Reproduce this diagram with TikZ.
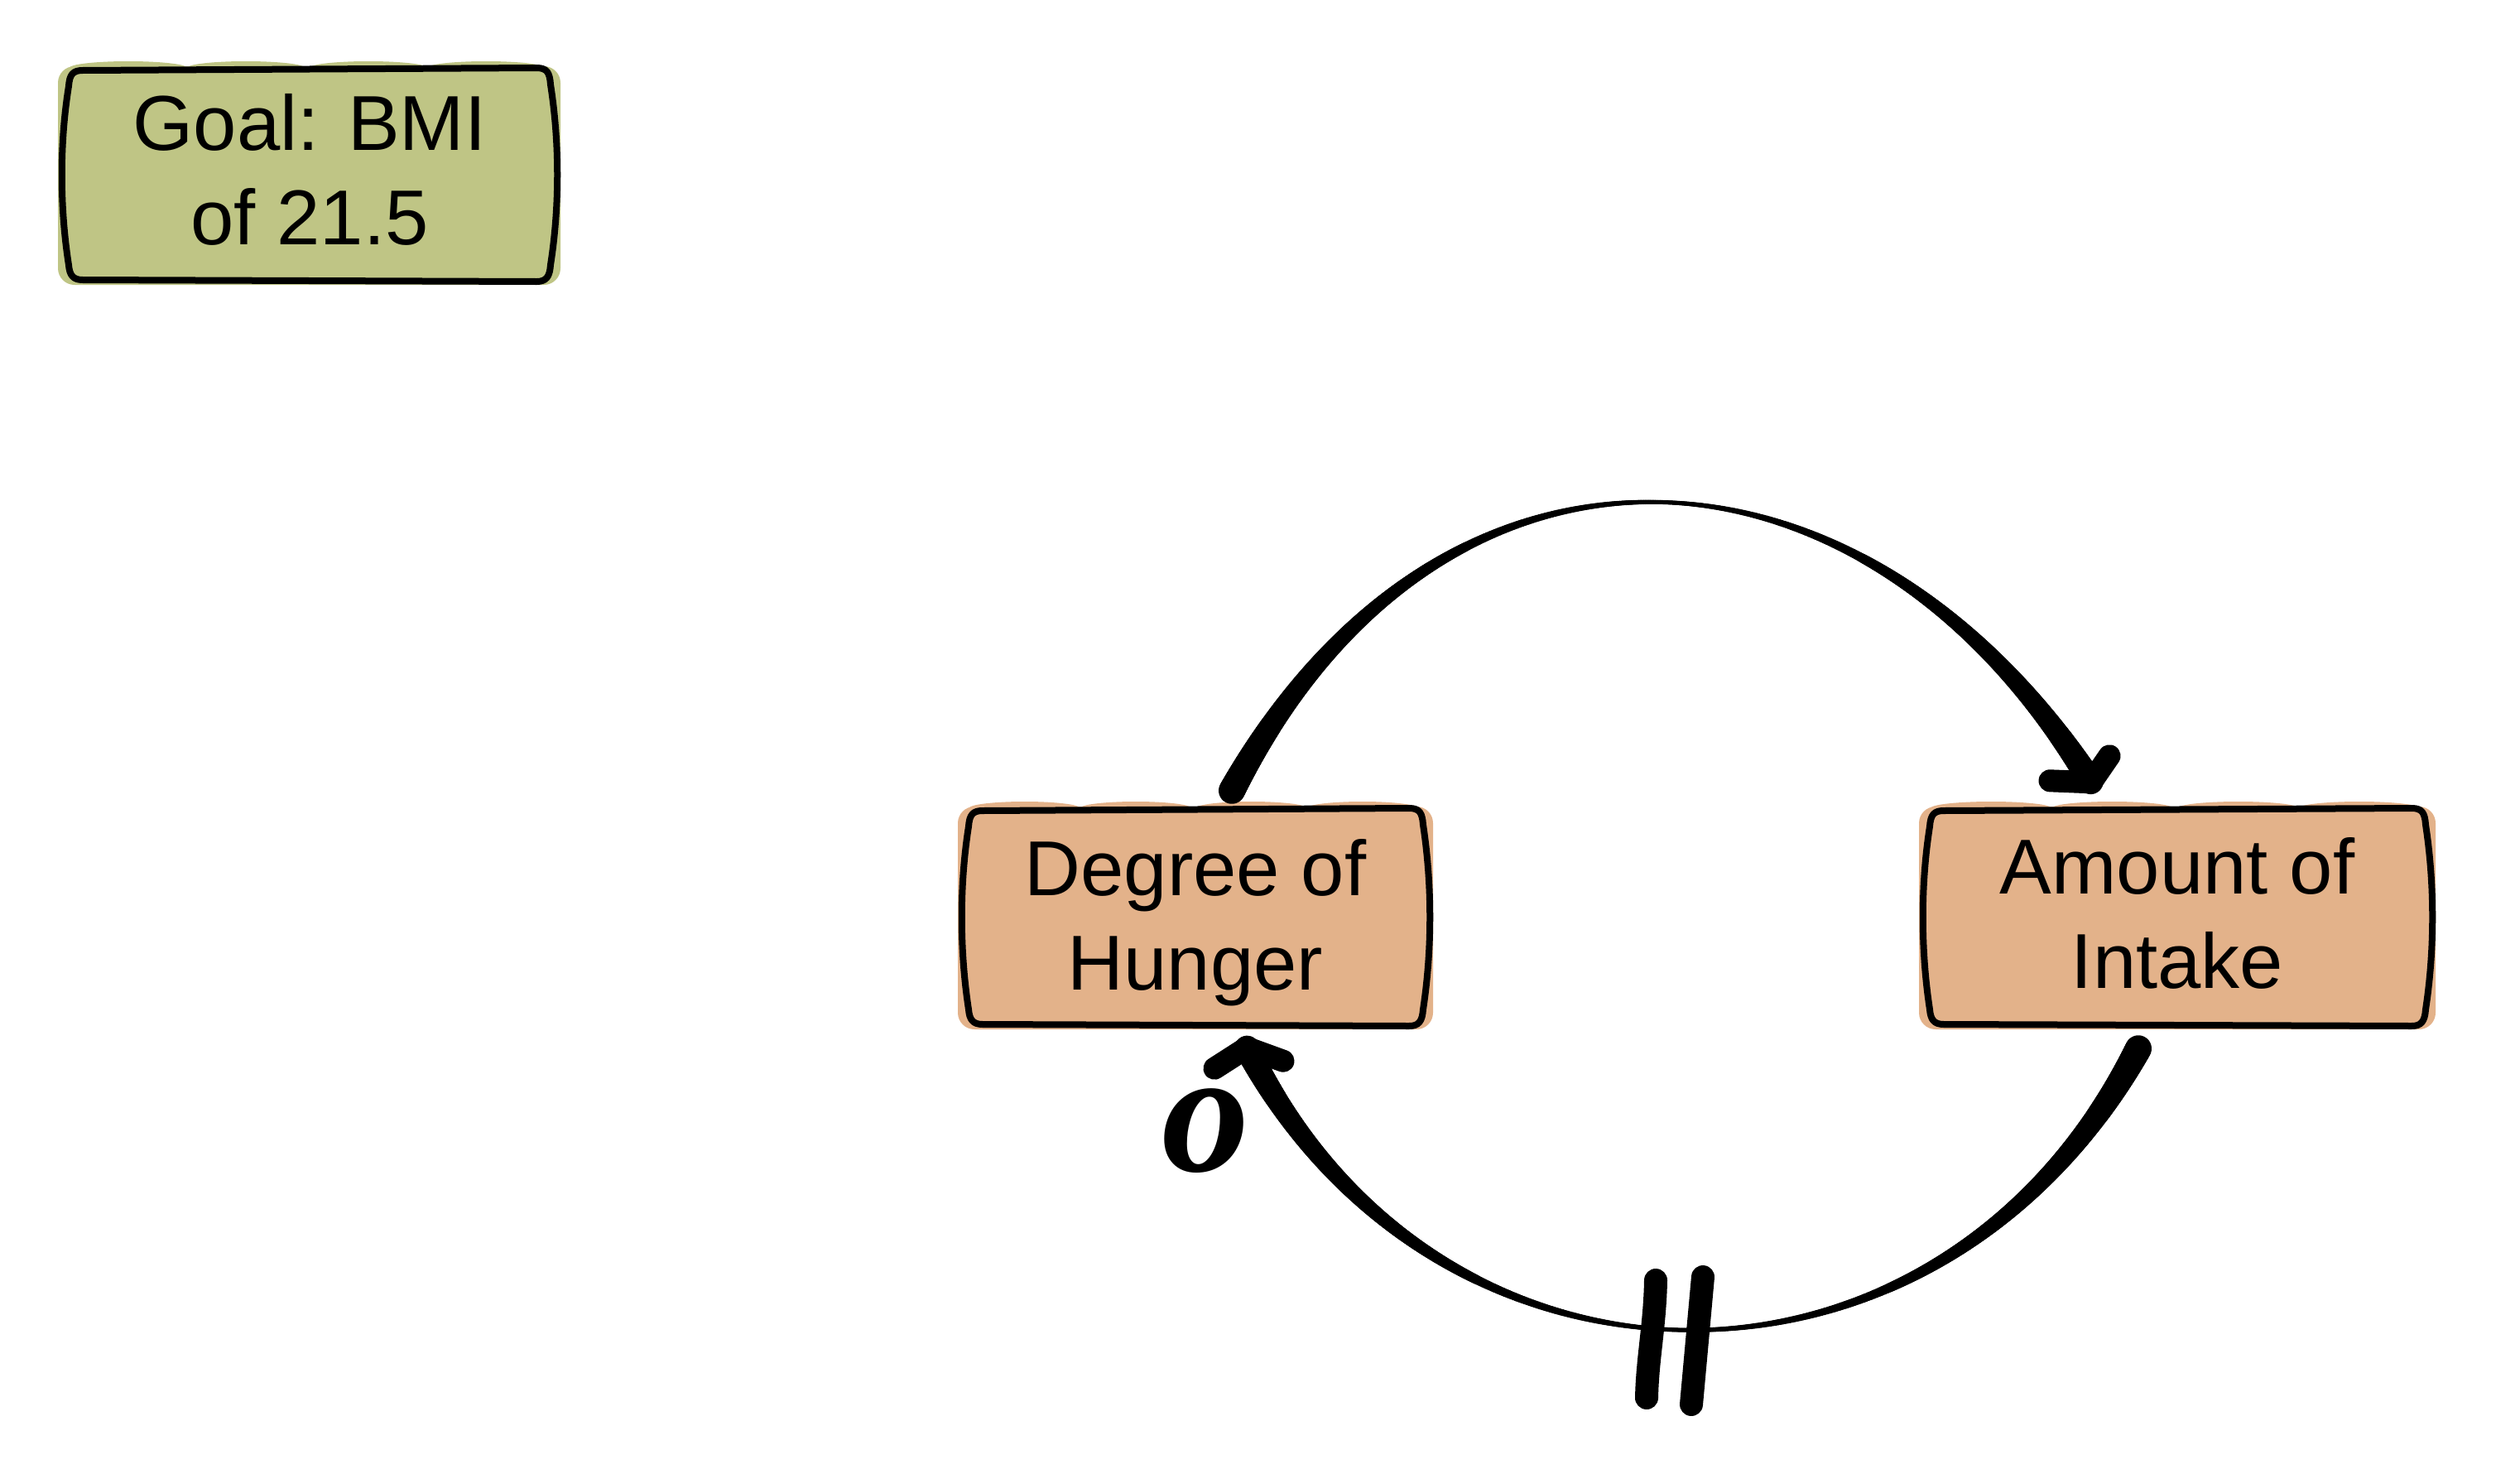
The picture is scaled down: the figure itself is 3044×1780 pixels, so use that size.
\documentclass[tikz,border=0pt]{standalone}
\usepackage{fontspec}
\setmainfont{Liberation Sans}
\newfontfamily\oserif{Liberation Serif}
\usetikzlibrary{decorations.markings,calc}
\pgfdeclarelayer{background}
\pgfsetlayers{background,main}
\definecolor{goalgreen}{RGB}{191,197,133}
\definecolor{boxorange}{RGB}{227,178,138}

\tikzset{
  lbl/.style={inner sep=0pt, align=center, font=\fontsize{94}{114}\selectfont},
  outline/.style={line width=8pt, line join=round, line cap=round},
  conn/.style={line width=5pt},
  headstroke/.style={line width=27pt, line cap=round, line join=round},
  taperdeco/.style={decorate, decoration={markings,
    mark=between positions 0 and -6pt step 1.5pt with {
      \pgfmathsetmacro\tpf{\pgfkeysvalueof{/pgf/decoration/mark info/distance from start}/\pgfdecoratedpathlength}
      \pgfmathsetmacro\tpa{abs(2*\tpf-1)}
      \pgfmathsetmacro\tpr{(5+27*(0.4*\tpa+0.6*\tpa*\tpa))/2}
      \fill (0pt,0pt) circle[radius=\tpr pt];
    }}},
  delaybar/.style={line width=28pt, line cap=round}
}

% L T R B colour
\newcommand\sketchbox[5]{%
  \begin{pgfonlayer}{background}
    \fill[#5, rounded corners=20pt] (#1-8,#2-2) rectangle (#3+7,#4+4);
    \foreach \sbf in {0.13,0.37,0.62,0.86}{
      \fill[#5] ({#1+\sbf*(#3-#1)},#2) ellipse[x radius={0.12*(#3-#1)*1pt}, y radius=8pt];
    }
  \end{pgfonlayer}
  \draw[outline]
    (#1+22,#2+3) -- (#3-22,#2)
    .. controls (#3-9,#2) and (#3-6,#2+6) .. (#3-5,#2+20)
    .. controls (#3+6,{#2+0.35*(#4-#2)}) and (#3+6,{#4-0.35*(#4-#2)}) .. (#3-5,#4-20)
    .. controls (#3-6,#4-6) and (#3-10,#4) .. (#3-22,#4)
    -- (#1+22,#4-2)
    .. controls (#1+10,#4-2) and (#1+6,#4-8) .. (#1+5,#4-20)
    .. controls (#1-6,{#4-0.35*(#4-#2)}) and (#1-6,{#2+0.35*(#4-#2)}) .. (#1+5,#2+22)
    .. controls (#1+6,#2+8) and (#1+10,#2+3) .. (#1+22,#2+3) -- cycle;
}

\begin{document}
\begin{tikzpicture}[x=1pt,y=-1pt]
\useasboundingbox (0,0) rectangle (3044,1780);

% nodes
\node[lbl, minimum width=592pt, minimum height=258pt] (goal) at (374,205) {Goal: BMI\\of 21.5};
\node[lbl, minimum width=559pt, minimum height=263pt] (hunger) at (1444,1114) {Degree of\\Hunger};
\node[lbl, minimum width=609pt, minimum height=263pt] (intake) at (2630,1103) {Amount of\\Intake};

\sketchbox{78}{82}{670}{340}{goalgreen}
\sketchbox{1165}{976}{1724}{1239}{boxorange}
\sketchbox{2326}{976}{2935}{1239}{boxorange}

% connector end points
\coordinate (c1s) at ($(hunger.north)+(44,-27.5)$);
\coordinate (c1e) at ($(intake.north)+(-104,-26.5)$);
\coordinate (c2s) at ($(intake.south)+(-47,31.5)$);
\coordinate (c2e) at ($(hunger.south)+(62,19.5)$);

% Degree of Hunger -> Amount of Intake
\path[taperdeco] (c1s) .. controls +(255,-478) and +(-274,-438) .. (c1e);
\draw[conn] (c1s) .. controls +(255,-478) and +(-274,-438) .. (c1e);
\draw[headstroke] ($(c1e)+(-50,-2)$) -- (c1e) -- ($(c1e)+(22,-32)$);

% Amount of Intake -> Degree of Hunger (delayed, opposite)
\path[taperdeco] (c2s) .. controls +(-243,458) and +(230,450) .. (c2e);
\draw[conn] (c2s) .. controls +(-243,458) and +(230,450) .. (c2e);
\draw[headstroke] ($(c2e)+(-39,25)$) -- (c2e) -- ($(c2e)+(44,16)$);

% delay mark
\draw[delaybar] (2000,1546) .. controls (1999,1600) and (1990,1640) .. (1989,1688);
\draw[delaybar] (2057,1542) -- (2043,1696);

% polarity label
\node[font=\oserif\bfseries\itshape\fontsize{212}{212}\selectfont, inner sep=0pt] (pol) at (1456,1366) {o};
\end{tikzpicture}
\end{document}
